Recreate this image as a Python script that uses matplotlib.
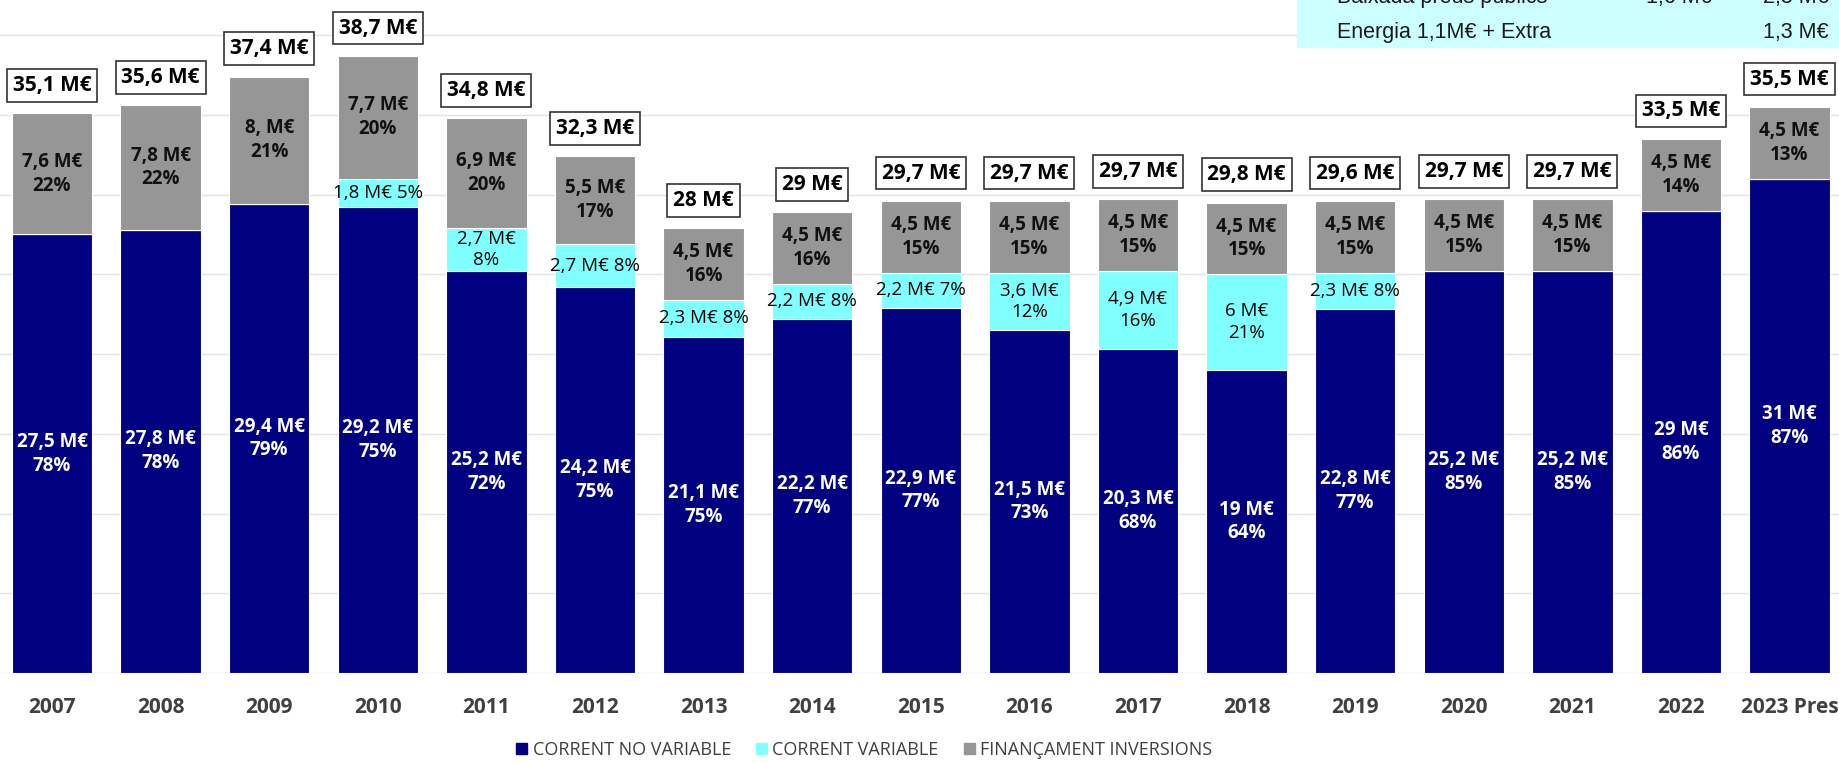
import matplotlib
matplotlib.use("Agg")
import matplotlib.pyplot as plt
from matplotlib.patches import Patch


# Dades del pressupost (M€)
years = ["2007", "2008", "2009", "2010", "2011", "2012", "2013", "2014", "2015",
         "2016", "2017", "2018", "2019", "2020", "2021", "2022", "2023 Pres"]
corrent_no_var = [27.5, 27.8, 29.4, 29.2, 25.2, 24.2, 21.1, 22.2, 22.9,
                  21.5, 20.3, 19.0, 22.8, 25.2, 25.2, 29.0, 31.0]
corrent_var = [0, 0, 0, 1.8, 2.7, 2.7, 2.3, 2.2, 2.2,
               3.6, 4.9, 6.0, 2.3, 0, 0, 0, 0]
financament = [7.6, 7.8, 8.0, 7.7, 6.9, 5.5, 4.5, 4.5, 4.5,
               4.5, 4.5, 4.5, 4.5, 4.5, 4.5, 4.5, 4.5]
totals = [35.1, 35.6, 37.4, 38.7, 34.8, 32.3, 28, 29, 29.7,
          29.7, 29.7, 29.8, 29.6, 29.7, 29.7, 33.5, 35.5]
pct_no_var = [78, 78, 79, 75, 72, 75, 75, 77, 77, 73, 68, 64, 77, 85, 85, 86, 87]
pct_var = [0, 0, 0, 5, 8, 8, 8, 8, 7, 12, 16, 21, 8, 0, 0, 0, 0]
pct_fin = [22, 22, 21, 20, 20, 17, 16, 16, 15, 15, 15, 15, 15, 15, 15, 14, 13]
# etiquetes del variable en dues línies
var_two_lines = [4, 9, 10, 11]

# Quadre de notes (dalt a la dreta)
note_rows = ["Baixada preus públics", "Energia 1,1M€ + Extra"]
note_val1 = ["1,6 M€", ""]
note_val2 = ["2,3 M€", "1,3 M€"]

NAVY = "#000080"
CYAN = "#80FFFF"
GRAY = "#969696"
FONT = ["Open Sans", "DejaVu Sans"]
W, H = 1839, 763


def fmt(v):
    return ("%g" % v).replace(".", ",")


def main():
    fig = plt.figure(figsize=(W / 100, H / 100), dpi=100)
    ax = fig.add_axes([0, 90 / H, 1, 673 / H])
    x = list(range(len(years)))
    w = 0.74

    bottom_var = corrent_no_var
    bottom_fin = [a + b for a, b in zip(corrent_no_var, corrent_var)]

    ax.bar(x, corrent_no_var, w, color=NAVY, edgecolor="white", linewidth=0.8, zorder=2)
    ax.bar(x, corrent_var, w, bottom=bottom_var, color=CYAN, edgecolor="white", linewidth=0.8, zorder=2)
    ax.bar(x, financament, w, bottom=bottom_fin, color=GRAY, edgecolor="white", linewidth=0.8, zorder=2)

    gray_txt = [fmt(v) + " M€" for v in financament]
    gray_txt[2] = "8, M€"  # tal qual a l'original

    for i in x:
        # corrent no variable
        ax.text(i, corrent_no_var[i] / 2, f"{fmt(corrent_no_var[i])} M€\n{pct_no_var[i]}%",
                ha="center", va="center", color="white", fontsize=13.5, fontweight="bold",
                family=FONT, linespacing=1.25, zorder=3)
        # corrent variable
        if corrent_var[i] > 0:
            sep = "\n" if i in var_two_lines else " "
            ax.text(i, bottom_var[i] + corrent_var[i] / 2,
                    f"{fmt(corrent_var[i])} M€{sep}{pct_var[i]}%",
                    ha="center", va="center", color="black", fontsize=13.5,
                    family=FONT, linespacing=1.25, zorder=3)
        # finançament inversions
        ax.text(i, bottom_fin[i] + financament[i] / 2, f"{gray_txt[i]}\n{pct_fin[i]}%",
                ha="center", va="center", color="#111111", fontsize=13.5, fontweight="bold",
                family=FONT, linespacing=1.25, zorder=3)
        # total
        top = bottom_fin[i] + financament[i]
        ax.annotate(f"{fmt(totals[i])} M€", (i, top), xytext=(0, 20), textcoords="offset points",
                    ha="center", va="center", fontsize=15, fontweight="bold", family=FONT,
                    color="black", zorder=4,
                    bbox=dict(boxstyle="square,pad=0.28", fc="white", ec="#333333", lw=1.2))

    ax.set_xlim(-0.479, 16.455)
    ax.set_ylim(0, 42.2)
    ax.set_yticks(range(0, 41, 5))
    ax.yaxis.grid(True, color="#e3e3e3", linewidth=1, zorder=0)
    ax.set_axisbelow(True)
    ax.tick_params(axis="y", left=False, labelleft=False)
    ax.set_xticks(x)
    ax.set_xticklabels(years, fontsize=15, fontweight="bold", family=FONT, color="#404040")
    ax.tick_params(axis="x", length=0, pad=17)
    for s in ax.spines.values():
        s.set_visible(False)

    # quadre de notes
    fig.patches.append(plt.Rectangle((1297 / W, 1 - 46.5 / H), 1 - 1297 / W, 46.5 / H,
                                     transform=fig.transFigure, color="#CCFFFF", zorder=5))
    baselines = [3, 38]
    for r, lab in enumerate(note_rows):
        yb = 1 - baselines[r] / H
        fig.text(1337 / W, yb, lab, ha="left", va="baseline", fontsize=15.5,
                 family="Liberation Sans", color="#1a1a1a", zorder=6)
        if note_val1[r]:
            fig.text(1712 / W, yb, note_val1[r], ha="right", va="baseline", fontsize=15.5,
                     family="Liberation Sans", color="#1a1a1a", zorder=6)
        fig.text(1829 / W, yb, note_val2[r], ha="right", va="baseline", fontsize=15.5,
                 family="Liberation Sans", color="#1a1a1a", zorder=6)

    handles = [Patch(color=NAVY), Patch(color=CYAN), Patch(color=GRAY)]
    fig.legend(handles, ["CORRENT NO VARIABLE", "CORRENT VARIABLE", "FINANÇAMENT INVERSIONS"],
               loc="center", bbox_to_anchor=(0.47, 13 / H), ncol=3, frameon=False,
               prop={"family": FONT, "size": 13}, labelcolor="#404040",
               handlelength=0.6, handleheight=0.6, handletextpad=0.3, columnspacing=1.4)

    fig.savefig("out.png", dpi=100)


if __name__ == "__main__":
    main()
